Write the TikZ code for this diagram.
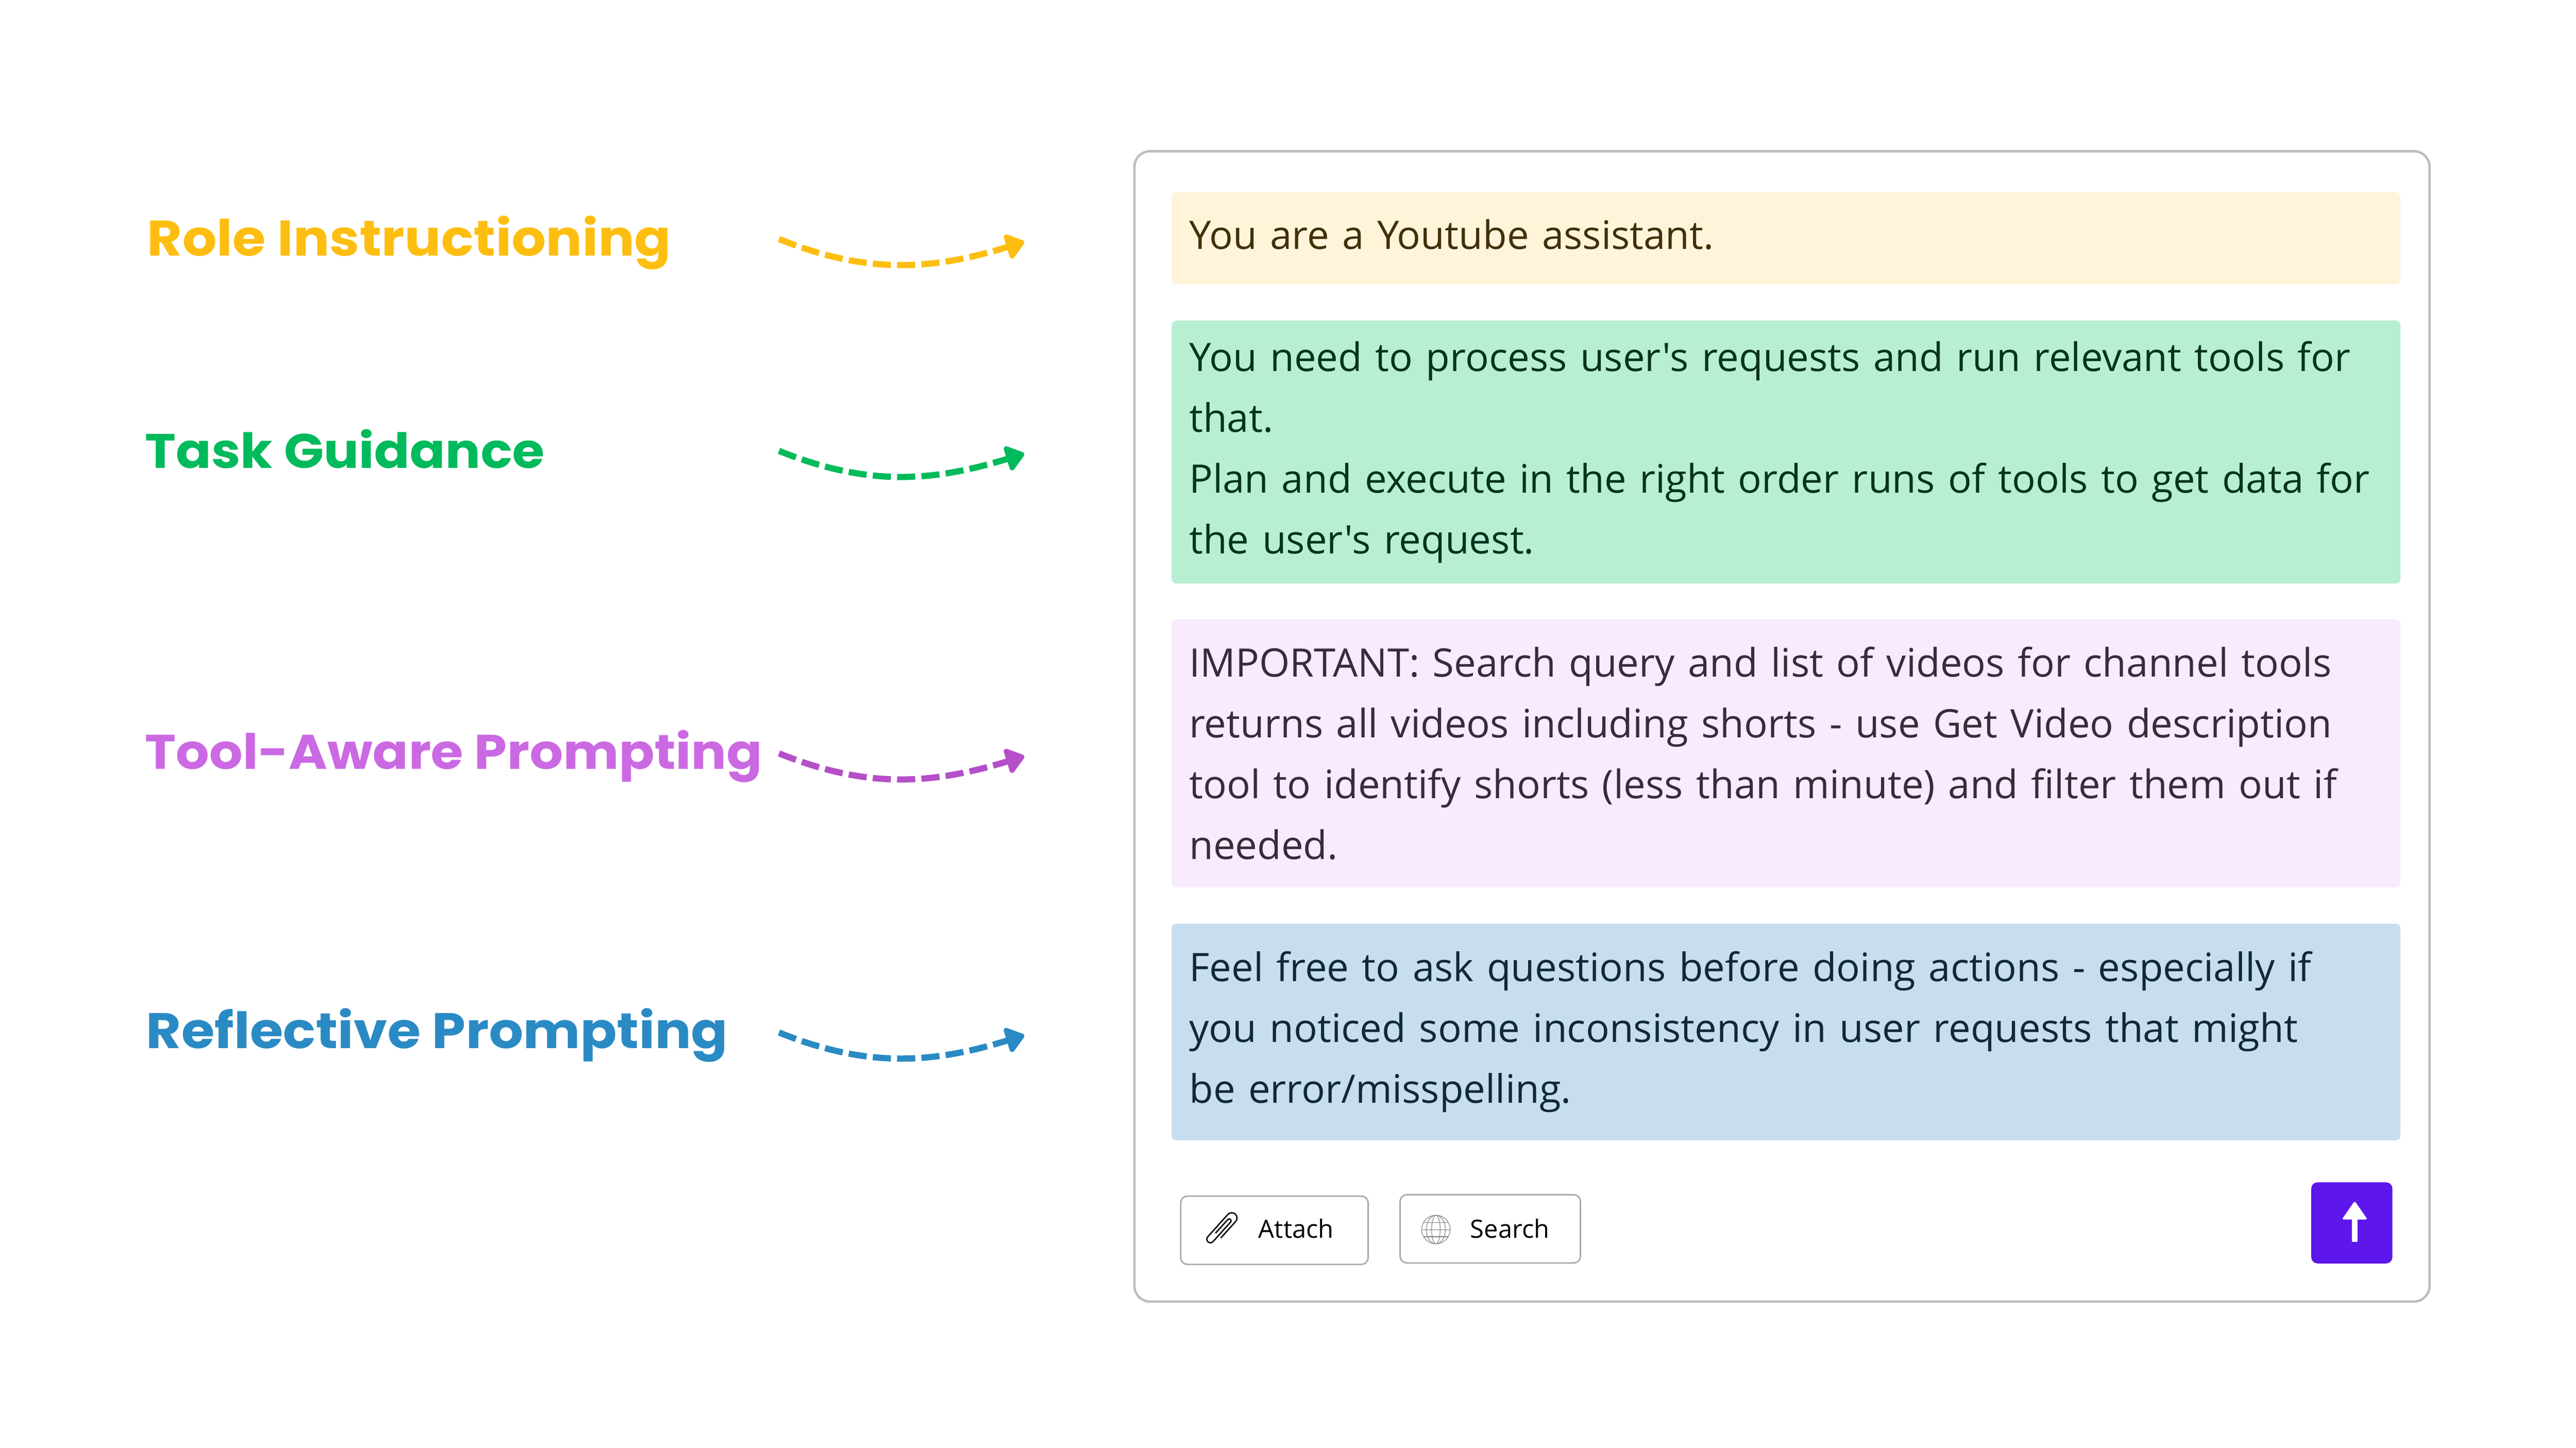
\documentclass[tikz,border=0pt]{standalone}
\usepackage{fontspec}
\setmainfont{Open Sans}
\newfontfamily\bodyfont{Open Sans}
\newfontfamily\labelfont[FakeStretch = 1.08]{Poppins}
\usetikzlibrary{arrows.meta}
\definecolor{roleC}{HTML}{FDBE11}
\definecolor{taskC}{HTML}{00BA5B}
\definecolor{toolC}{HTML}{CB69E3}
\definecolor{toolD}{HTML}{B44FC8}
\definecolor{reflC}{HTML}{2A8AC4}
\definecolor{roleF}{HTML}{FFF4DA}
\definecolor{taskF}{HTML}{B8EFD3}
\definecolor{toolF}{HTML}{F7EBFD}
\definecolor{reflF}{HTML}{C6DEEE}
\definecolor{roleT}{HTML}{40300A}
\definecolor{taskT}{HTML}{06331F}
\definecolor{toolT}{HTML}{352C3C}
\definecolor{reflT}{HTML}{10283A}
\definecolor{frameC}{HTML}{BDBDBD}
\definecolor{btnC}{HTML}{A9A9AE}
\definecolor{sendC}{HTML}{5E17EB}
\tikzset{
  tag/.style = {anchor = base west, inner sep = 0pt, font = \labelfont\bfseries\fontsize{#1}{34}\selectfont},
  promptbox/.style = {rounded corners = 0.1cm, text width = 25.02cm, inner xsep = 0.37cm,
    inner ysep = 0pt, align = left, font = \bodyfont\fontsize{23.4}{36.3}\selectfont},
  curve/.style = {line width = 0.13cm, dash pattern = on 0.38cm off 0.13cm,
    -{Triangle[round, length = 0.42cm, width = 0.6cm]}},
  toolbtn/.style = {draw = btnC, line width = 0.03cm, rounded corners = 0.14cm,
    minimum width = 3.85cm, minimum height = 1.41cm},
  btntext/.style = {font = \fontsize{15}{18}\selectfont, anchor = base}
}
\begin{document}
\begin{tikzpicture}
  \useasboundingbox (0, 0) rectangle (54, 30.34);

  \draw[frameC, line width = 0.05cm, rounded corners = 0.33cm]
    (23.78, 27.17) rectangle (50.93, 3.06);

  \draw (3.08, 24.98) node[tag = 29.8, text = roleC] (roleTag) {Role Instructioning};
  \draw (3.03, 20.53) node[tag = 28.9, text = taskC] (taskTag) {Task Guidance};
  \draw (3.03, 14.22) node[tag = 29.0, text = toolC] (toolTag) {Tool-Aware Prompting};
  \draw (3.06, 8.37) node[tag = 29.8, text = reflC] (reflTag) {Reflective Prompting};

  \draw (37.44, 25.345) node[promptbox, fill = roleF, text = roleT, minimum height = 1.93cm, text depth = 0.165cm] (roleBox)
    {You are a Youtube assistant.};
  \draw (37.44, 20.865) node[promptbox, fill = taskF, text = taskT, minimum height = 5.51cm] (taskBox)
    {You need to process user's requests and run relevant tools for\\
     that.\\
     Plan and execute in the right order runs of tools to get data for\\
     the user's request.};
  \draw (37.44, 14.55) node[promptbox, fill = toolF, text = toolT, minimum height = 5.62cm] (toolBox)
    {IMPORTANT: Search query and list of videos for channel tools\\
     returns all videos including shorts - use Get Video description\\
     tool to identify shorts (less than minute) and filter them out if\\
     needed.};
  \draw (37.44, 8.71) node[promptbox, fill = reflF, text = reflT, minimum height = 4.54cm] (reflBox)
    {Feel free to ask questions before doing actions - especially if\\
     you noticed some inconsistency in user requests that might\\
     be error/misspelling.};

  \coordinate (roleFrom) at (16.33, 25.33);
  \coordinate (roleTo) at (21.47, 25.27);
  \coordinate (taskFrom) at (16.33, 20.89);
  \coordinate (taskTo) at (21.47, 20.83);
  \coordinate (toolFrom) at (16.33, 14.55);
  \coordinate (toolTo) at (21.47, 14.49);
  \coordinate (reflFrom) at (16.33, 8.70);
  \coordinate (reflTo) at (21.47, 8.64);

  \draw[curve, roleC] (roleFrom) to[out = -22, in = 197] (roleTo);
  \draw[curve, taskC] (taskFrom) to[out = -22, in = 197] (taskTo);
  \draw[curve, toolD] (toolFrom) to[out = -22, in = 197] (toolTo);
  \draw[curve, reflC] (reflFrom) to[out = -22, in = 197] (reflTo);

  % buttons
  \draw (26.715, 4.555) node[toolbtn, minimum width = 3.93cm, minimum height = 1.43cm] (attachBtn) {};
  \draw (31.24, 4.585) node[toolbtn, minimum width = 3.78cm, minimum height = 1.43cm] (searchBtn) {};
  \draw (27.17, 4.39) node[btntext] (attachText) {Attach};
  \draw (31.65, 4.39) node[btntext] (searchText) {Search};

  % paper clip
  \begin{scope}[shift = {(25.62, 4.59)}, rotate = -42, line width = 0.028cm, line cap = round]
    \draw (0.11, -0.16) -- (0.11, 0.30) arc[start angle = 0, end angle = 180, radius = 0.11]
      -- (-0.11, -0.33) arc[start angle = 180, end angle = 360, radius = 0.075]
      -- (0.04, 0.22) arc[start angle = 0, end angle = 180, radius = 0.04] -- (-0.04, -0.16);
  \end{scope}

  % globe
  \begin{scope}[shift = {(30.10, 4.57)}, gray, line width = 0.012cm]
    \draw (0, 0) circle[radius = 0.3];
    \draw (0, 0) ellipse[x radius = 0.2, y radius = 0.3];
    \draw (0, 0) ellipse[x radius = 0.09, y radius = 0.3];
    \draw (-0.3, 0) -- (0.3, 0);
    \draw (-0.26, 0.15) -- (0.26, 0.15);
    \draw (-0.26, -0.15) -- (0.26, -0.15);
  \end{scope}

  % send
  \draw (49.30, 4.71) node[fill = sendC, rounded corners = 0.13cm, minimum size = 1.7cm] (sendBtn) {};
  \fill[white] (49.30, 4.31) rectangle (49.42, 4.90);
  \fill[white, rounded corners = 0.04cm]
    (49.36, 5.17) -- (49.63, 4.78) -- (49.09, 4.78) -- cycle;
\end{tikzpicture}
\end{document}
